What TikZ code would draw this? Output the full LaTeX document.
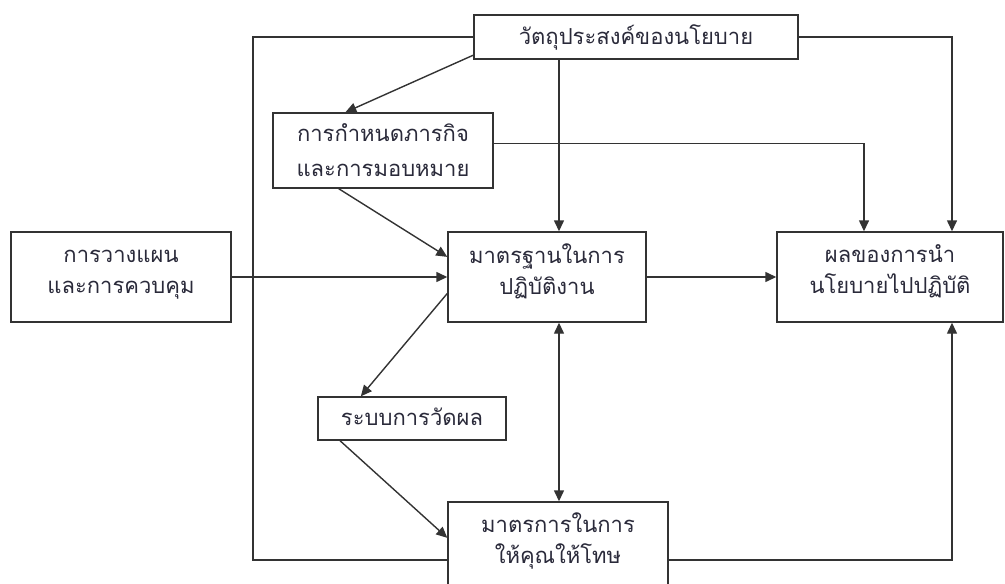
\documentclass[tikz,border=0pt]{standalone}
\usepackage{fontspec}
\newfontfamily\thaifont[Script=Thai]{Loma}
\usetikzlibrary{arrows.meta,calc}
\definecolor{linec}{HTML}{333333}
\definecolor{textc}{HTML}{2A2A3A}
% two lines with fixed struts: #3 = height above first baseline, #4 = depth below last baseline
\newcommand{\twol}[4]{\rule{0pt}{#3}#1\\#2\rule[-#4]{0pt}{0pt}}
\newcommand{\onel}[3]{\rule[-#3]{0pt}{#2}#1}
\begin{document}
\begin{tikzpicture}[x=1pt,y=-1pt,
  box/.style={draw=linec, line width=1.4pt, align=center, inner sep=0pt,
    font=\thaifont\fontsize{22}{31}\selectfont, text=textc},
  ln/.style={draw=linec, line width=1.4pt},
  arr/.style={ln, -{Triangle[length=11pt,width=10pt]}},
  darr/.style={ln, {Triangle[length=11pt,width=10pt]}-{Triangle[length=11pt,width=10pt]}},
]
\useasboundingbox (0,0) rectangle (1005,584);
\clip (0,0) rectangle (1005,584);

\node[box, minimum width=324pt, minimum height=44pt] (obj) at (636,37) {\onel{วัตถุประสงค์ของนโยบาย}{19pt}{4pt}};
\node[box, minimum width=220pt, minimum height=75pt, font=\thaifont\fontsize{22}{35}\selectfont] (mission) at (383,150.5) {\twol{การกำหนดภารกิจ}{และการมอบหมาย}{21pt}{4pt}};
\node[box, minimum width=220pt, minimum height=90pt] (plan) at (121,277) {\twol{การวางแผน}{และการควบคุม}{15pt}{14pt}};
\node[box, minimum width=198pt, minimum height=90pt] (std) at (547,277) {\twol{มาตรฐานในการ}{ปฏิบัติงาน}{15pt}{15pt}};
\node[box, minimum width=226pt, minimum height=90pt] (result) at (890,277) {\twol{ผลของการนำ}{นโยบายไปปฏิบัติ}{15pt}{15pt}};
\node[box, minimum width=188pt, minimum height=43pt] (eval) at (412,418.5) {\onel{ระบบการวัดผล}{15pt}{4pt}};
\node[box, minimum width=220pt, minimum height=90pt] (reward) at (558,547) {\twol{มาตรการในการ}{ให้คุณให้โทษ}{15pt}{18pt}};

\coordinate (lc) at (253,560);
\coordinate (rc) at (952,560);
\coordinate (mx) at (559,0);
\coordinate (x1) at (864,0);

% loops around
\draw[ln] (obj.west) -| (lc) -- (reward.west |- lc);
\draw[arr] (obj.east) -| (result.north -| rc);
\draw[arr] (reward.east |- rc) -| (result.south -| rc);

% objective to standard
\draw[arr] (obj.south -| mx) -- (std.north -| mx);
% objective to mission
\draw[arr] ($(obj.south west)!0.1!(obj.north west)$) -- ($(mission.north west)!0.33!(mission.north east)$);
% mission to result
\draw[arr] ($(mission.east)+(0,-7)$) -| (result.north -| x1);
% mission to standard
\draw[arr] ($(mission.south west)!0.3!(mission.south east)$) -- ($(std.north west)!0.28!(std.south west)$);
% plan to standard
\draw[arr] (plan.east) -- (std.west);
% standard to result
\draw[arr] (std.east) -- (result.west);
% standard to eval
\draw[arr] ($(std.north west)!0.68!(std.south west)$) -- ($(eval.north west)!0.23!(eval.north east)$);
% eval to reward
\draw[arr] ($(eval.south west)!0.12!(eval.south east)$) -- ($(reward.north west)!0.4!(reward.south west)$);
% standard <-> reward
\draw[darr] (std.south -| mx) -- (reward.north -| mx);
\end{tikzpicture}
\end{document}
